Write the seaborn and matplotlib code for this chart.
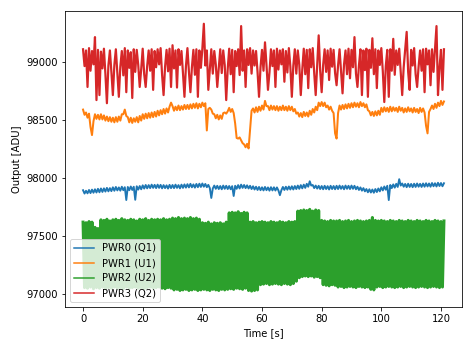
import numpy as np
import pandas as pd
import matplotlib
matplotlib.use("Agg")
import matplotlib.pyplot as plt
import seaborn as sns

# sample times [s]
time = np.arange(0, 121.01, 0.5)

labels = ["PWR0 (Q1)", "PWR1 (U1)", "PWR2 (U2)", "PWR3 (Q2)"]
colors = ["#1f77b4", "#ff7f0e", "#2ca02c", "#d62728"]

pwr0 = [
    97895, 97866, 97890, 97868, 97897, 97870, 97900, 97873, 97903, 97875,
    97907, 97877, 97910, 97880, 97911, 97883, 97915, 97885, 97913, 97887,
    97920, 97890, 97923, 97893, 97919, 97891, 97925, 97895, 97921, 97810,
    97923, 97895, 97927, 97897, 97925, 97812, 97929, 97900, 97931, 97903,
    97937, 97909, 97940, 97911, 97939, 97913, 97943, 97915, 97941, 97913,
    97943, 97915, 97941, 97911, 97939, 97913, 97937, 97909, 97941, 97913,
    97940, 97913, 97943, 97915, 97939, 97911, 97943, 97915, 97945, 97917,
    97947, 97919, 97950, 97920, 97945, 97917, 97949, 97921, 97951, 97923,
    97953, 97925, 97949, 97921, 97941, 97913, 97828, 97910, 97935, 97907,
    97933, 97905, 97931, 97903, 97935, 97907, 97933, 97905, 97931, 97903,
    97930, 97845, 97933, 97907, 97939, 97910, 97943, 97915, 97940, 97913,
    97937, 97910, 97933, 97905, 97929, 97901, 97925, 97897, 97923, 97895,
    97920, 97893, 97923, 97895, 97919, 97891, 97921, 97893, 97920, 97892,
    97919, 97893, 97852, 97895, 97923, 97897, 97925, 97899, 97927, 97901,
    97929, 97901, 97931, 97905, 97935, 97907, 97939, 97911, 97943, 97915,
    97950, 97925, 97972, 97935, 97940, 97913, 97935, 97909, 97933, 97905,
    97931, 97903, 97933, 97905, 97930, 97901, 97933, 97905, 97931, 97903,
    97933, 97905, 97935, 97907, 97931, 97903, 97935, 97907, 97933, 97905,
    97935, 97907, 97933, 97903, 97925, 97897, 97919, 97891, 97913, 97885,
    97905, 97877, 97903, 97875, 97901, 97873, 97905, 97879, 97910, 97885,
    97920, 97893, 97927, 97899, 97933, 97810, 97940, 97913, 97945, 97917,
    97950, 97923, 97990, 97935, 97953, 97925, 97949, 97921, 97951, 97923,
    97949, 97921, 97951, 97923, 97953, 97925, 97950, 97923, 97953, 97925,
    97955, 97927, 97953, 97925, 97957, 97929, 97955, 97927, 97959, 97931,
    97957, 97929, 97955,
]

pwr1 = [
    98590, 98545, 98565, 98520, 98555, 98440, 98370, 98490, 98550, 98510,
    98545, 98505, 98550, 98505, 98540, 98495, 98530, 98490, 98525, 98485,
    98520, 98480, 98525, 98485, 98530, 98495, 98550, 98550, 98590, 98535,
    98525, 98480, 98520, 98475, 98515, 98485, 98525, 98480, 98535, 98495,
    98550, 98510, 98555, 98515, 98560, 98520, 98565, 98525, 98570, 98530,
    98580, 98540, 98585, 98550, 98595, 98555, 98600, 98565, 98615, 98650,
    98620, 98580, 98615, 98585, 98625, 98585, 98620, 98590, 98630, 98595,
    98630, 98595, 98635, 98600, 98640, 98605, 98645, 98600, 98640, 98610,
    98650, 98620, 98645, 98410, 98595, 98605, 98590, 98555, 98550, 98515,
    98545, 98505, 98540, 98510, 98560, 98565, 98555, 98575, 98605, 98570,
    98595, 98560, 98470, 98345, 98340, 98350, 98325, 98300, 98290, 98265,
    98295, 98255, 98420, 98580, 98600, 98565, 98610, 98570, 98615, 98580,
    98625, 98590, 98665, 98620, 98620, 98585, 98625, 98590, 98620, 98585,
    98620, 98580, 98615, 98585, 98625, 98585, 98615, 98580, 98620, 98585,
    98615, 98575, 98595, 98555, 98565, 98530, 98560, 98525, 98570, 98535,
    98565, 98530, 98580, 98545, 98595, 98565, 98615, 98585, 98650, 98620,
    98655, 98620, 98650, 98610, 98625, 98590, 98615, 98580, 98560, 98385,
    98340, 98560, 98625, 98590, 98630, 98595, 98635, 98600, 98640, 98605,
    98645, 98610, 98650, 98615, 98645, 98610, 98655, 98620, 98645, 98610,
    98635, 98585, 98575, 98540, 98570, 98535, 98575, 98540, 98580, 98545,
    98605, 98570, 98610, 98575, 98605, 98570, 98615, 98575, 98610, 98580,
    98605, 98570, 98615, 98580, 98605, 98565, 98600, 98570, 98610, 98575,
    98600, 98565, 98605, 98570, 98595, 98560, 98605, 98570, 98600, 98565,
    98450, 98385, 98570, 98595, 98625, 98595, 98640, 98605, 98650, 98620,
    98665, 98630, 98660,
]

pwr2 = [
    97620, 97055, 97615, 97050, 97625, 97060, 97620, 97045, 97575, 97055,
    97565, 97050, 97640, 97060, 97635, 97045, 97645, 97055, 97630, 97050,
    97640, 97060, 97645, 97050, 97635, 97055, 97650, 97045, 97640, 97060,
    97635, 97050, 97645, 97055, 97640, 97060, 97630, 97050, 97645, 97055,
    97640, 97045, 97650, 97055, 97635, 97060, 97645, 97050, 97640, 97055,
    97645, 97060, 97640, 97050, 97650, 97045, 97640, 97055, 97645, 97050,
    97655, 97035, 97650, 97040, 97660, 97030, 97650, 97035, 97655, 97040,
    97650, 97030, 97660, 97035, 97650, 97040, 97655, 97030, 97645, 97035,
    97615, 97040, 97610, 97035, 97620, 97030, 97605, 97040, 97615, 97035,
    97610, 97030, 97615, 97040, 97605, 97035, 97620, 97040, 97700, 97045,
    97705, 97040, 97700, 97050, 97710, 97045, 97695, 97040, 97705, 97050,
    97700, 97030, 97620, 97025, 97625, 97030, 97615, 97035, 97620, 97080,
    97625, 97085, 97620, 97090, 97615, 97080, 97625, 97085, 97620, 97090,
    97615, 97085, 97625, 97080, 97620, 97090, 97615, 97085, 97625, 97080,
    97620, 97090, 97625, 97110, 97715, 97140, 97720, 97150, 97725, 97155,
    97720, 97150, 97730, 97155, 97715, 97145, 97725, 97150, 97720, 97140,
    97635, 97080, 97630, 97075, 97625, 97070, 97635, 97080, 97630, 97075,
    97630, 97060, 97635, 97065, 97625, 97055, 97630, 97060, 97635, 97065,
    97625, 97060, 97630, 97055, 97635, 97065, 97630, 97060, 97625, 97055,
    97630, 97060, 97635, 97040, 97660, 97035, 97635, 97060, 97630, 97065,
    97635, 97055, 97630, 97060, 97625, 97065, 97635, 97060, 97630, 97055,
    97625, 97060, 97635, 97065, 97630, 97055, 97625, 97060, 97635, 97065,
    97630, 97060, 97625, 97055, 97635, 97060, 97630, 97065, 97625, 97060,
    97635, 97055, 97630, 97060, 97625, 97065, 97635, 97060, 97630, 97055,
    97625, 97060, 97630,
]

pwr3 = [
    99110, 98965, 99100, 98785, 99120, 98925, 99095, 98980, 99215, 98672,
    99105, 98715, 99090, 98945, 99115, 98895, 98645, 98970, 99100, 98915,
    98715, 98975, 99110, 98905, 98700, 98960, 99095, 98885, 99120, 98740,
    99100, 98950, 99085, 98690, 99110, 98915, 99105, 98975, 98785, 98940,
    99115, 98895, 98785, 98965, 99100, 98925, 99110, 98760, 99095, 98955,
    99110, 98980, 99120, 98890, 98715, 98960, 99105, 98920, 99115, 98785,
    99145, 98945, 99100, 98780, 99110, 98975, 99095, 98905, 98700, 98965,
    99120, 98915, 98740, 98955, 99105, 98890, 99110, 98700, 99100, 98950,
    99115, 99330, 98970, 99100, 98760, 98930, 99110, 98900, 99095, 98980,
    98785, 98950, 99110, 98905, 99100, 98975, 98672, 98940, 99115, 98895,
    99105, 98740, 99095, 98965, 99110, 98888, 99310, 98925, 99100, 98785,
    99110, 98975, 99120, 98900, 99100, 98970, 99095, 98915, 98700, 98955,
    99105, 98925, 99170, 98975, 98760, 98910, 99110, 98965, 99100, 98785,
    99115, 98935, 99100, 98980, 99110, 98830, 99095, 98910, 99120, 98960,
    98700, 98970, 99110, 98900, 99100, 98975, 98715, 98935, 99115, 98895,
    99105, 98775, 99110, 98955, 99120, 98905, 98715, 98970, 99230, 98925,
    98740, 98975, 99110, 98915, 99100, 98845, 99115, 98960, 99105, 98905,
    98800, 98970, 99110, 98925, 98730, 98980, 99100, 98895, 99115, 98860,
    99105, 98955, 99215, 98900, 98785, 98970, 99110, 98715, 99100, 98930,
    99115, 98700, 99105, 98950, 99205, 98895, 99110, 98775, 99100, 98975,
    99120, 98920, 98655, 98965, 99105, 98700, 99110, 98925, 99200, 98890,
    99100, 98975, 99115, 98910, 98715, 98955, 99110, 99260, 98915, 98760,
    99105, 98970, 99120, 98895, 98785, 98960, 99100, 98925, 99110, 98740,
    99115, 98980, 99100, 98800, 99110, 98915, 99120, 99310, 98715, 98950,
    99105, 98760, 99110,
]

series = [pwr0, pwr1, pwr2, pwr3]
frames = []
for lab, vals in zip(labels, series):
    frames.append(pd.DataFrame({"Time [s]": time, "Output [ADU]": vals, "channel": lab}))
df = pd.concat(frames, ignore_index=True)

DPI = 72
fig = plt.figure(figsize=(473 / DPI, 347 / DPI), dpi=DPI)
ax = fig.add_axes([65 / 473, 1 - 307 / 347, 397 / 473, 296 / 347])

sns.lineplot(data=df, x="Time [s]", y="Output [ADU]", hue="channel",
             hue_order=labels, palette=colors, estimator=None, sort=False,
             linewidth=1.5, ax=ax)

ax.set_xlim(-6.05, 127.05)
ax.set_ylim(96888, 99440)
ax.set_yticks([97000, 97500, 98000, 98500, 99000])
ax.set_xticks([0, 20, 40, 60, 80, 100, 120])
ax.set_xlabel("Time [s]")
ax.set_ylabel("Output [ADU]")
ax.legend(loc="lower left")

# noisy channels: slightly wider strokes so the fast oscillation renders as a band
data_lines = [ln for ln in ax.lines if len(ln.get_xdata()) == len(time)]
if len(data_lines) >= 4:
    data_lines[0].set_linewidth(1.9)
    data_lines[1].set_linewidth(2.0)
    data_lines[2].set_linewidth(3.0)
    data_lines[3].set_linewidth(2.2)

fig.savefig("out.png", dpi=DPI)
